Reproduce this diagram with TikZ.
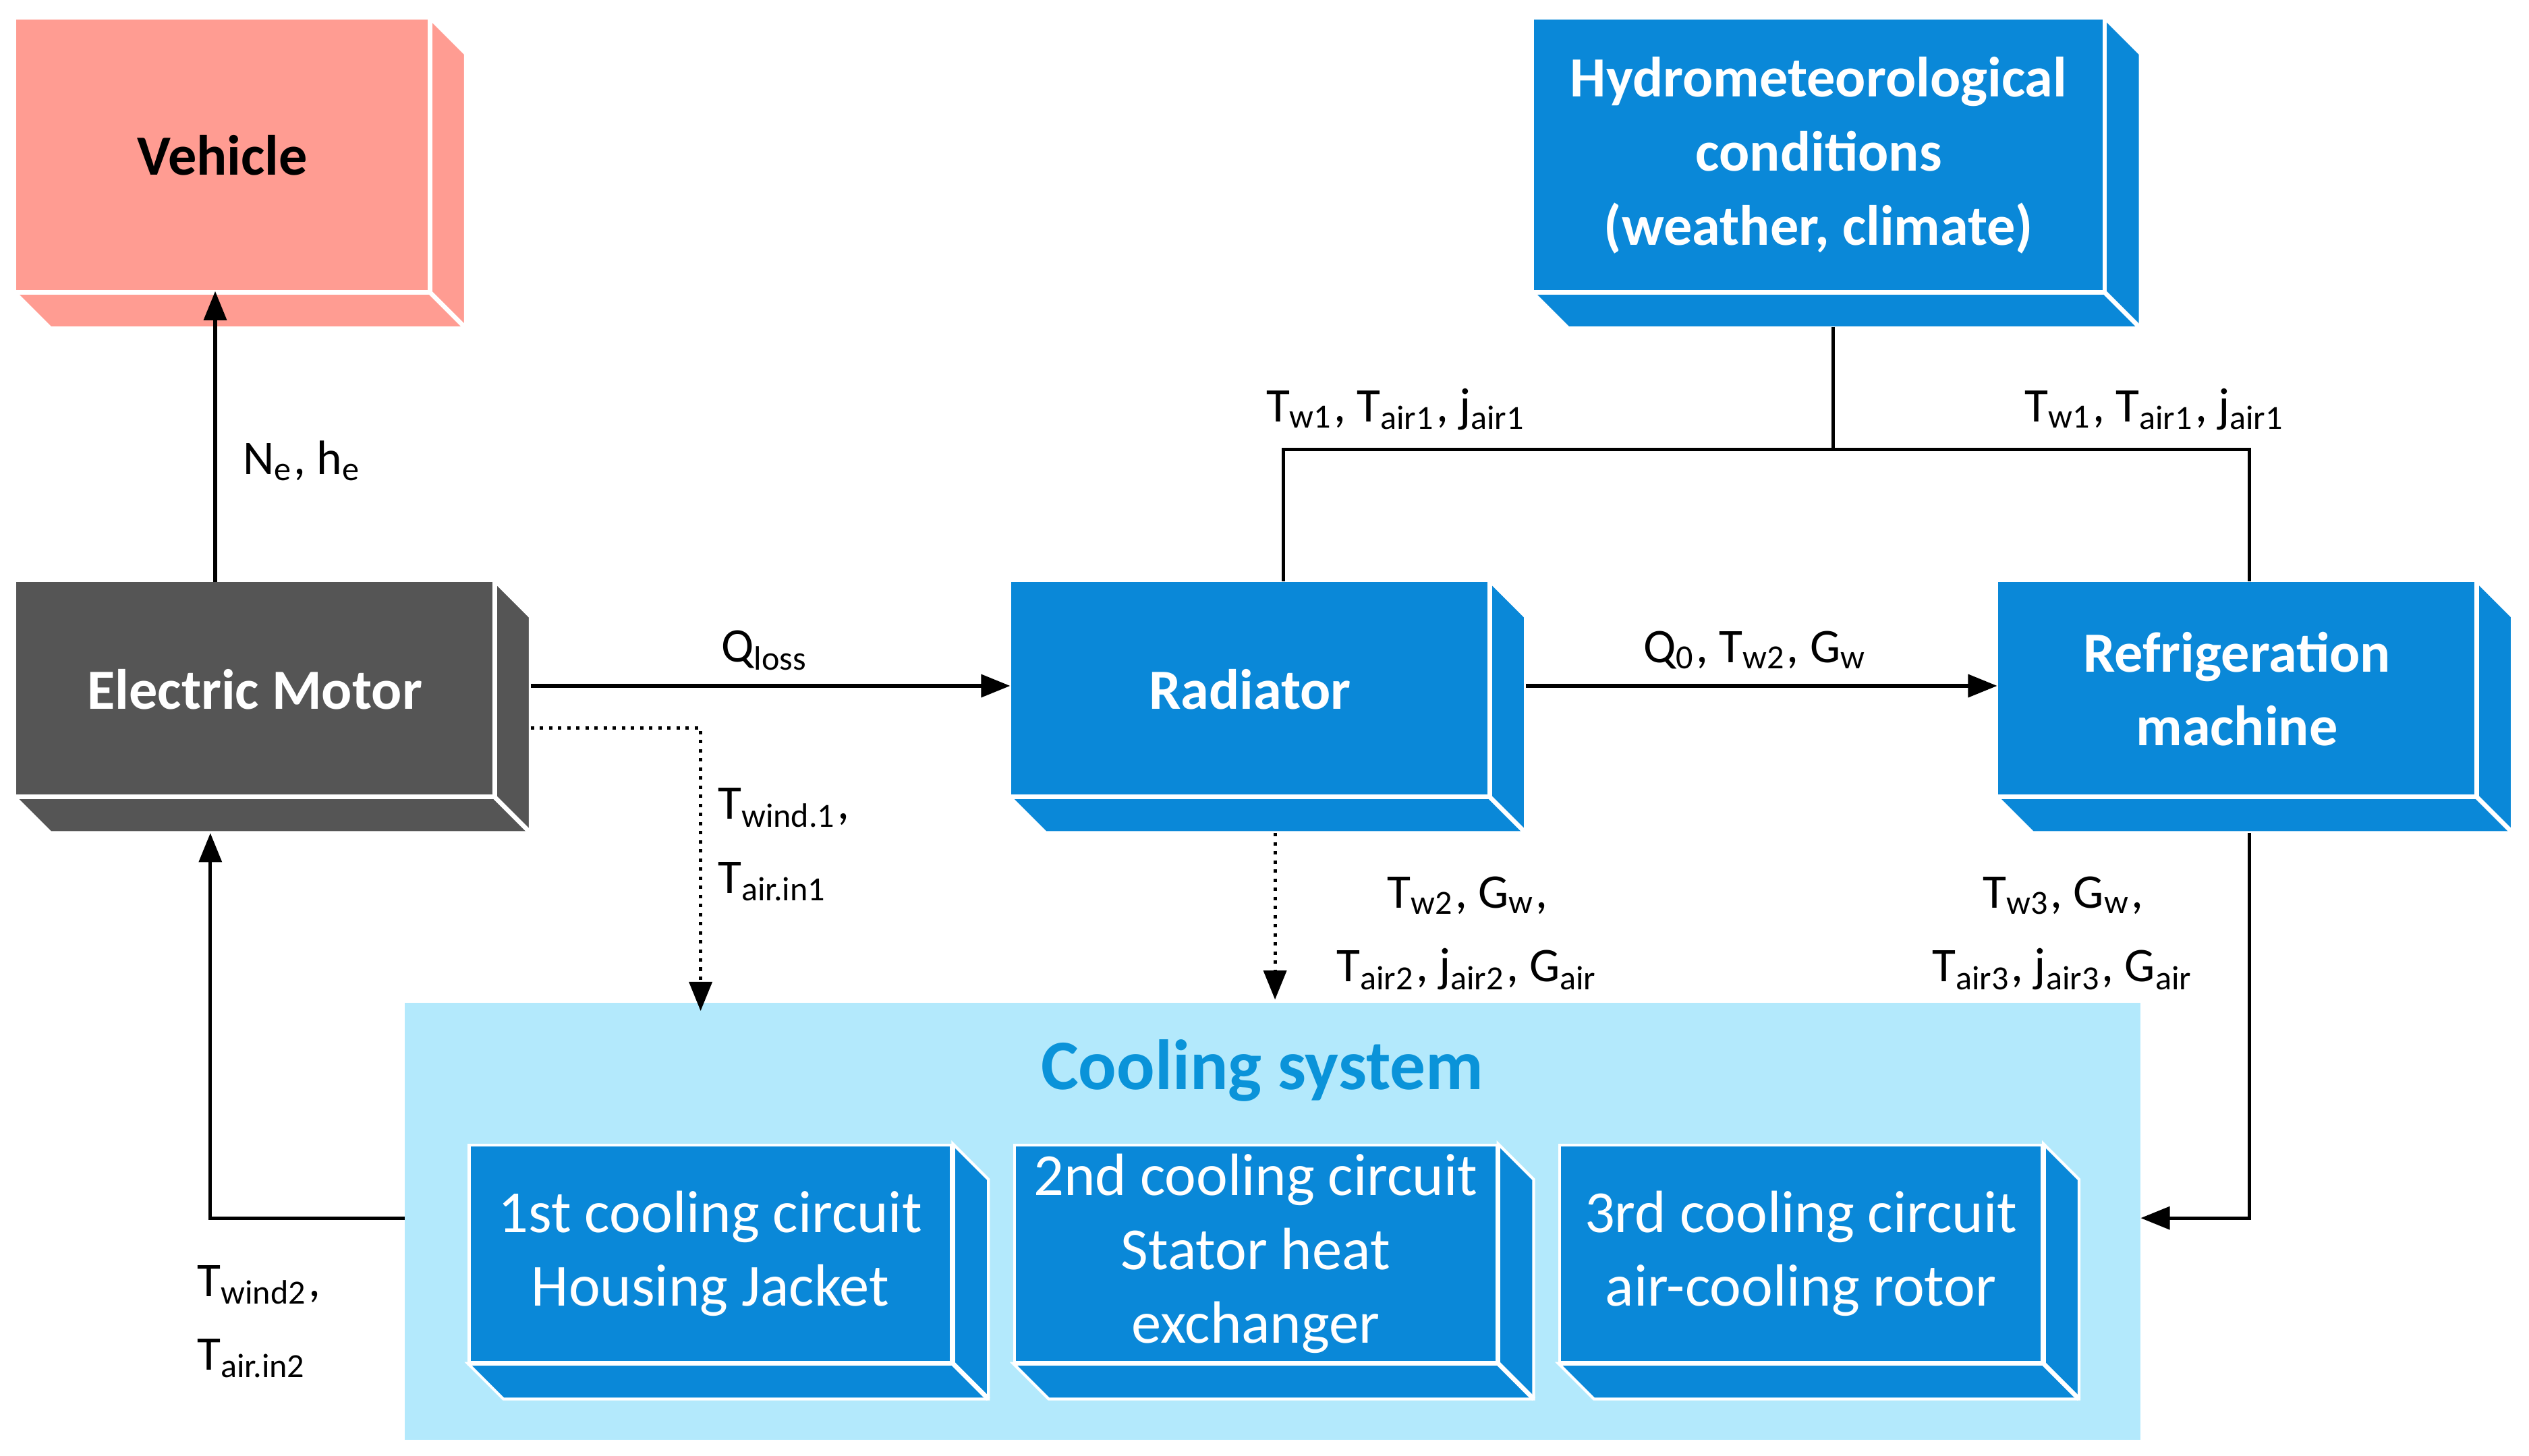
\documentclass[tikz,border=0pt]{standalone}
\usepackage{fontspec}
\setmainfont{Carlito}
\usetikzlibrary{arrows.meta,calc}
\definecolor{bl}{HTML}{0A88D8}
\definecolor{lb}{HTML}{B3E9FC}
\definecolor{mot}{HTML}{555555}
\definecolor{veh}{HTML}{FF9C92}
\definecolor{tit}{HTML}{0A93D9}
\newcommand{\extrude}[2]{%
 \fill[#2,draw=white,line width=0.5pt] (#1.north east) -- ([xshift=2.2mm,yshift=-2.2mm]#1.north east) -- ([xshift=2.2mm,yshift=-2.2mm]#1.south east) -- ([xshift=2.2mm,yshift=-2.2mm]#1.south west) -- (#1.south west) -- (#1.south east) -- cycle;
 \draw[white,line width=0.8pt] (#1.north east) -- (#1.south east) -- (#1.south west);
 \draw[white,line width=0.8pt] (#1.south east) -- ([xshift=2.2mm,yshift=-2.2mm]#1.south east);}
\begin{document}
\begin{tikzpicture}[x=0.1mm,y=-0.1mm,
 box/.style={rectangle,inner sep=0pt,align=center,font=\fontsize{10}{13}\selectfont\bfseries,text=white},
 cir/.style={rectangle,fill=bl,draw=white,line width=0.5pt,inner sep=0pt,align=center,font=\fontsize{10.5}{13}\selectfont,text=white,minimum width=29.8mm,minimum height=13.4mm},
 lab/.style={font=\fontsize{8.5}{13}\selectfont,align=center,inner sep=0pt},
 arr/.style={line width=0.6pt,-{Triangle[length=1.8mm,width=1.4mm]}},
 ln/.style={line width=0.6pt},
 dt/.style={line width=0.6pt,densely dotted,-{Triangle[length=1.8mm,width=1.4mm]}}]
\useasboundingbox (0,0) rectangle (1563,900);
\fill[lb] (250,620) rectangle (1323,890);
\node[font=\fontsize{12.5}{15}\selectfont\bfseries,text=tit] (cst) at (780,662) {Cooling system};
\node[cir] (c1) at (439,775) {1st cooling circuit\\Housing Jacket};
\extrude{c1}{bl}
\node[cir] (c2) at (776,775) {2nd cooling circuit\\Stator heat\\exchanger};
\extrude{c2}{bl}
\node[cir] (c3) at (1113,775) {3rd cooling circuit\\air-cooling rotor};
\extrude{c3}{bl}
\node[box,fill=veh,text=black,minimum width=25.5mm,minimum height=16.8mm] (veh) at (137.5,96) {Vehicle};
\extrude{veh}{veh}
\node[box,fill=bl,minimum width=35.2mm,minimum height=16.8mm] (hyd) at (1124,96) {Hydrometeorological\\conditions\\(weather, climate)};
\extrude{hyd}{bl}
\node[box,fill=mot,minimum width=29.5mm,minimum height=13.2mm] (mot) at (157.5,426) {Electric Motor};
\extrude{mot}{mot}
\node[box,fill=bl,minimum width=29.5mm,minimum height=13.2mm] (rad) at (772.5,426) {Radiator};
\extrude{rad}{bl}
\node[box,fill=bl,minimum width=29.5mm,minimum height=13.2mm] (ref) at (1382.5,426) {Refrigeration\\machine};
\extrude{ref}{bl}
\coordinate (mtop) at (133,360);
\coordinate (vbot) at (133,180);
\draw[arr] (mtop) -- (vbot);
\node[lab] at (187,285) {N\textsubscript{e}, h\textsubscript{e}};
\coordinate (mr) at (328,424);
\draw[arr] (mr) -- (rad.west |- mr);
\node[lab] at (473,402) {Q\textsubscript{loss}};
\coordinate (md) at (328,450);
\coordinate (mdc) at (433,450);
\coordinate (c1t) at (433,625);
\draw[dt] (md) -- (mdc) -- (c1t);
\node[lab,align=left,anchor=west] at (443,522) {T\textsubscript{wind.1},\\T\textsubscript{air.in1}};
\coordinate (rr) at (943,424);
\draw[arr] (rr) -- (ref.west |- rr);
\node[lab] at (1085,402) {Q\textsubscript{0}, T\textsubscript{w2}, G\textsubscript{w}};
\coordinate (hb) at (1133,202);
\coordinate (hj) at (1133,278);
\coordinate (jl) at (793,278);
\coordinate (jr) at (1390,278);
\draw[ln] (hb) -- (hj);
\draw[ln] (rad.north -| jl) -- (jl) -- (jr) -- (ref.north -| jr);
\node[lab] at (863,253) {T\textsubscript{w1}, T\textsubscript{air1}, j\textsubscript{air1}};
\node[lab] at (1332,253) {T\textsubscript{w1}, T\textsubscript{air1}, j\textsubscript{air1}};
\coordinate (rb) at (788,515);
\coordinate (c2t) at (788,618);
\draw[dt] (rb) -- (c2t);
\node[lab] at (907,577) {T\textsubscript{w2}, G\textsubscript{w},\\T\textsubscript{air2}, j\textsubscript{air2}, G\textsubscript{air}};
\coordinate (fb) at (1390,515);
\coordinate (fc) at (1390,753);
\coordinate (csr) at (1323,753);
\draw[arr] (fb) -- (fc) -- (csr);
\node[lab] at (1275,577) {T\textsubscript{w3}, G\textsubscript{w},\\T\textsubscript{air3}, j\textsubscript{air3}, G\textsubscript{air}};
\coordinate (csl) at (250,753);
\coordinate (lc) at (130,753);
\coordinate (mb) at (130,515);
\draw[arr] (csl) -- (lc) -- (mb);
\node[lab,align=left] at (160,817) {T\textsubscript{wind2},\\T\textsubscript{air.in2}};
\end{tikzpicture}
\end{document}
